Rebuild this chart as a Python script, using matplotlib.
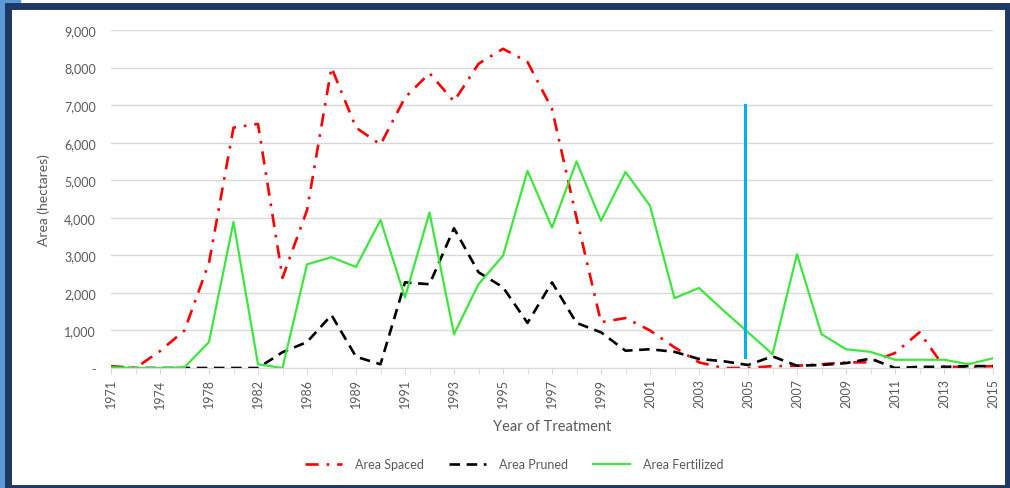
import numpy as np
import matplotlib.pyplot as plt
from matplotlib.patches import Rectangle

plt.rcParams['font.family'] = ['Lato', 'DejaVu Sans']

# categories (Excel category axis, every other label shown)
years = ['1971', '1972', '1974', '1976', '1978', '1980', '1982', '1984', '1986', '1988',
         '1989', '1990', '1991', '1992', '1993', '1994', '1995', '1996', '1997', '1998',
         '1999', '2000', '2001', '2002', '2003', '2004', '2005', '2006', '2007', '2008',
         '2009', '2010', '2011', '2012', '2013', '2014', '2015']
tick_labels = ['1971', '1974', '1978', '1982', '1986', '1989', '1991', '1993', '1995', '1997',
               '1999', '2001', '2003', '2005', '2007', '2009', '2011', '2013', '2015']

area_spaced = [50, 0, 450, 1000, 2800, 6400, 6500, 2400, 4200, 8000,
               6400, 5950, 7200, 7850, 7100, 8100, 8500, 8150, 6900, 4000,
               1220, 1330, 1000, 550, 150, 0, 0, 50, 60, 100,
               150, 150, 400, 950, 30, 30, 50]
area_pruned = [0, 0, 0, 0, 0, 0, 0, 420, 690, 1410,
               300, 100, 2280, 2230, 3720, 2550, 2150, 1200, 2280, 1200,
               950, 460, 500, 430, 240, 180, 80, 310, 60, 80,
               130, 250, 0, 30, 30, 50, 50]
area_fertilized = [20, 0, 0, 20, 690, 3890, 100, 0, 2760, 2950,
                   2690, 3940, 1880, 4140, 900, 2230, 2990, 5250, 3740, 5500,
                   3920, 5220, 4320, 1860, 2130, 1530, 950, 370, 3030, 900,
                   500, 430, 220, 220, 220, 100, 260]

# blue marker line drawn on the chart near 2005
marker_x = 25.88
marker_top = 7000
marker_bottom = 300

x = np.arange(len(years))

fig = plt.figure(figsize=(10.1, 4.89), dpi=100)

# frame decoration
fig.patches.append(Rectangle((0, 0), 20 / 1010, 1, transform=fig.transFigure,
                             color='#5B9BD5', zorder=0))
fig.patches.append(Rectangle((8 / 1010, 0), 1000 / 1010, 482 / 489, transform=fig.transFigure,
                             facecolor='white', edgecolor='#1F3864', linewidth=5, zorder=1))

ax = fig.add_axes([111 / 1010, 1 - 369 / 489, 882 / 1010, 338 / 489])
ax.set_zorder(2)
ax.patch.set_alpha(0)

ax.plot(x, area_spaced, color='#FF0000', linestyle=(0, (5, 3, 1, 3)), linewidth=1.9, label='Area Spaced')
ax.plot(x, area_pruned, color='black', linestyle=(0, (4, 2.5)), linewidth=1.9, label='Area Pruned')
ax.plot(x, area_fertilized, color='#3DE63D', linestyle='-', linewidth=1.6, label='Area Fertilized')
ax.plot([marker_x, marker_x], [marker_bottom, marker_top], color='#00B0F0', linewidth=2.2)

ax.set_xlim(0, len(years) - 1)
ax.set_ylim(0, 9000)
ax.set_yticks(np.arange(0, 9001, 1000))
ax.set_yticklabels(['-' if v == 0 else f'{v:,}' for v in range(0, 9001, 1000)])
ax.set_xticks(x, minor=True)
ax.set_xticks([years.index(t) for t in tick_labels])
ax.set_xticklabels(tick_labels, rotation=90)

ax.grid(axis='y', color='#D9D9D9', linewidth=1)
ax.set_axisbelow(True)
for s in ['top', 'right', 'left']:
    ax.spines[s].set_visible(False)
ax.spines['bottom'].set_color('#D9D9D9')
ax.tick_params(axis='y', length=0, labelsize=9, labelcolor='#595959', pad=11)
ax.tick_params(axis='x', which='both', length=4, color='#D9D9D9', labelsize=9, labelcolor='#595959')

ax.set_ylabel('Area (hectares)', fontsize=10, color='#595959', labelpad=10)
ax.set_xlabel('Year of Treatment', fontsize=10.5, color='#595959', labelpad=8)

fig.legend(loc='center', bbox_to_anchor=(514 / 1010, 1 - 465 / 489), ncol=3, frameon=False,
           fontsize=9, labelcolor='#595959', handlelength=3, handletextpad=1.0, columnspacing=2)

plt.savefig('out.png', dpi=100)
